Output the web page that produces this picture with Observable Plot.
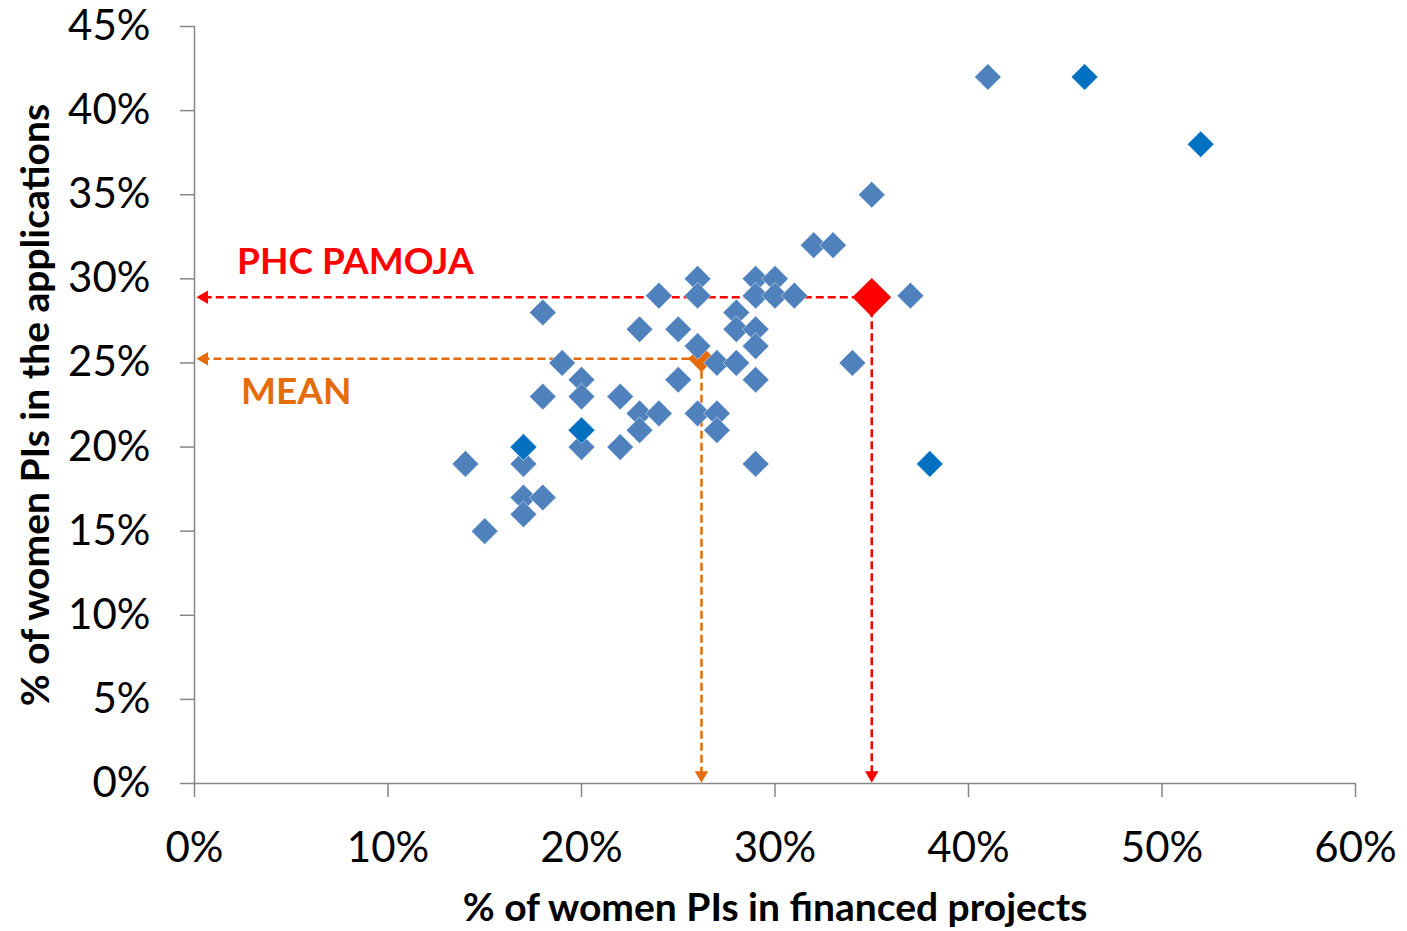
<!DOCTYPE html>
<html><head><meta charset="utf-8">
<script src="https://cdn.jsdelivr.net/npm/d3@7"></script>
<script src="https://cdn.jsdelivr.net/npm/@observablehq/plot@0.6"></script>
<style>body{margin:0;background:#fff}</style>
</head><body><div id="chart"></div>
<script>
// % of women PIs (financed projects, applications) per call — light blue series
const financedLight =     [14,15,17,17,18,17,18,19,20,20,18,20,20,22,22,23,23,24,23,25,24,25,26,32,33,26,26,29,30,29,30,31,37,28,28,29,29,26,27,28,29,27,27,29,34,35,41,17];
const applicationsLight = [19,15,19,17,17,16,28,25,24,23,23,21,20,23,20,22,21,22,27,27,29,24,22,32,32,30,29,30,30,29,29,29,29,28,27,27,26,26,25,25,24,22,21,19,25,35,42,20];
// darker blue series
const financedDark =     [17,20,38,46,52];
const applicationsDark = [20,21,19,42,38];
// highlighted points: PHC PAMOJA and MEAN
const highlightNames = ["PHC PAMOJA","MEAN"];
const highlightX = [35.0, 26.2];
const highlightY = [28.9, 25.25];
const highlightColors = ["#FF0000","#E46C0A"];
const labelX = [2.2, 2.4];
const labelY = [31.0, 23.25];
const arrowEnd = 0.5;
const xTicks = [0,10,20,30,40,50,60];
const yTicks = [0,5,10,15,20,25,30,35,40,45];
const xTitle = "% of women PIs in financed projects";
const yTitle = "% of women PIs in the applications";

const light = financedLight.map((x,i)=>({x:x/100, y:applicationsLight[i]/100}));
const dark = financedDark.map((x,i)=>({x:x/100, y:applicationsDark[i]/100}));
const hl = highlightNames.map((n,i)=>({name:n, x:highlightX[i]/100, y:highlightY[i]/100, c:highlightColors[i], lx:labelX[i]/100, ly:labelY[i]/100, end:arrowEnd/100}));
const pct = d3.format(".0%");

const chart = Plot.plot({
  width:1407, height:931,
  marginLeft:194, marginRight:52, marginTop:26, marginBottom:148,
  x:{domain:[0,0.6]},
  y:{domain:[0,0.45]},
  style:{fontFamily:"Lato, 'Open Sans', sans-serif", background:"#fff", color:"#000"},
  marks:[
    Plot.ruleY([0], {stroke:"#868686", strokeWidth:1.5}),
    Plot.ruleX([0], {stroke:"#868686", strokeWidth:1.5}),
    Plot.axisX({ticks:xTicks.map(d=>d/100), tickFormat:pct, tickSize:14, tickPadding:35, fontSize:42, stroke:"#868686", strokeWidth:1.5, fill:"#000", label:null}),
    Plot.axisY({ticks:yTicks.map(d=>d/100), tickFormat:pct, tickSize:14, tickPadding:30, fontSize:42, stroke:"#868686", strokeWidth:1.5, fill:"#000", label:null}),
    // dashed guides
    Plot.link(hl, {x1:"x", y1:"y", x2:"end", y2:"y", stroke:"c", strokeWidth:2.5, strokeDasharray:"8,4"}),
    Plot.link(hl, {x1:"x", y1:"y", x2:"x", y2:"end", stroke:"c", strokeWidth:2.5, strokeDasharray:"8,4"}),
    Plot.dot(hl, {x:"end", y:"y", symbol:"triangle", r:5, fill:"c", rotate:-90}),
    Plot.dot(hl, {x:"x", y:"end", symbol:"triangle", r:5, fill:"c", rotate:180}),
    // mean diamond (under the points)
    Plot.dot(hl.filter(d=>d.name==="MEAN"), {x:"x", y:"y", symbol:"diamond2", r:12, fill:"c"}),
    Plot.dot(light, {x:"x", y:"y", symbol:"diamond2", r:12, fill:"#4F81BD", stroke:"#fff", strokeOpacity:0.5, strokeWidth:1}),
    Plot.dot(dark, {x:"x", y:"y", symbol:"diamond2", r:12, fill:"#0070C0", stroke:"#fff", strokeOpacity:0.5, strokeWidth:1}),
    Plot.dot(hl.filter(d=>d.name!=="MEAN"), {x:"x", y:"y", symbol:"diamond2", r:17.5, fill:"c"}),
    Plot.text(hl, {x:"lx", y:"ly", text:"name", fill:"c", textAnchor:"start", fontSize:37, fontWeight:"bold"}),
    // axis titles
    Plot.text([xTitle], {frameAnchor:"bottom", textAnchor:"middle", dy:137, fontSize:39, fontWeight:"bold", fill:"#000"}),
    Plot.text([yTitle], {frameAnchor:"left", textAnchor:"middle", dx:-158, rotate:-90, fontSize:39, fontWeight:"bold", fill:"#000"})
  ]
});
document.getElementById("chart").appendChild(chart);
</script></body></html>
